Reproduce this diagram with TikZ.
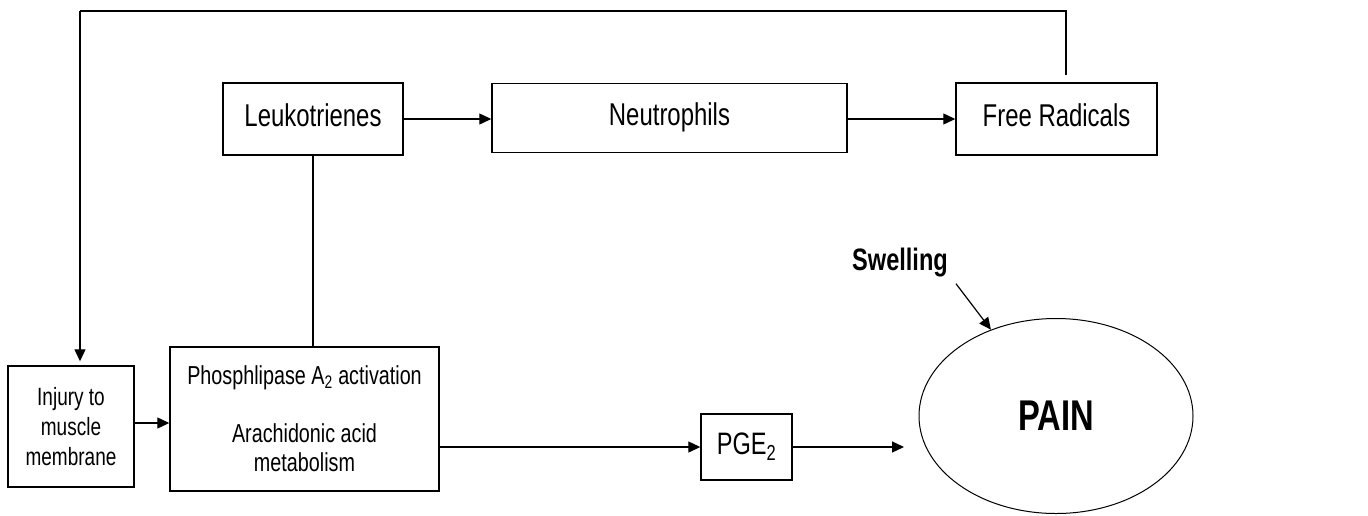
\documentclass[tikz,border=0pt]{standalone}
\usepackage{fontspec}
\setmainfont{Liberation Sans}[FakeStretch=0.76]
\usetikzlibrary{arrows.meta,shapes.geometric}

\tikzset{
  box/.style={draw,line width=1.4pt,inner sep=0pt,align=center},
  arr/.style={line width=1.2pt,-{Triangle[length=12pt,width=11pt]}},
  link/.style={line width=1.2pt}
}

\begin{document}
\begin{tikzpicture}[x=1pt,y=-1pt]
  \useasboundingbox (0,0) rectangle (1368,515);
  % top row
  \node[box,minimum width=180pt,minimum height=72pt,font=\fontsize{31.5}{35}\selectfont] (leuko) at (313,119) {\strut Leukotrienes};
  \node[box,minimum width=355pt,minimum height=69pt,font=\fontsize{31.5}{35}\selectfont] (neutro) at (669.5,118) {\strut Neutrophils};
  \node[box,minimum width=201pt,minimum height=72pt,font=\fontsize{31.5}{35}\selectfont] (free) at (1056.5,119) {\strut Free Radicals};
  % bottom row
  \node[box,minimum width=126pt,minimum height=121pt,font=\fontsize{25}{30}\selectfont] (injury) at (71,426.5) {Injury to\\muscle\\membrane};
  \node[box,minimum width=269pt,minimum height=144pt,font=\fontsize{26}{29}\selectfont] (phos) at (304.5,419) {Phosphlipase A\textsubscript{2} activation\\[29pt]Arachidonic acid\\metabolism};
  \node[box,minimum width=91pt,minimum height=66pt,font=\fontsize{31}{35}\selectfont] (pge) at (746.5,447) {\strut PGE\textsubscript{2}};
  \node[draw,ellipse,line width=1pt,minimum width=274pt,minimum height=195pt,font=\bfseries\fontsize{43}{48}\selectfont] (pain) at (1056,416) {PAIN};
  \node[inner sep=2pt,font=\bfseries\fontsize{31}{35}\selectfont] (swell) at (900,263) {Swelling};
  \coordinate (top) at (80,11);
  \coordinate (painin) at (904,447);
  % connectors
  \draw[arr] (leuko.east) -- (leuko.east -| neutro.west);
  \draw[arr] ([yshift=-1pt]neutro.east) -- ([yshift=-1pt]neutro.east -| free.west);
  \draw[link] ([xshift=9.5pt,yshift=7pt]free.north) |- (top);
  \draw[arr] (top) -- ([xshift=9pt,yshift=4pt]injury.north);
  \draw[link] (leuko.south) -- (leuko.south |- phos.north);
  \draw[arr] ([yshift=3.5pt]injury.east) -- ([yshift=3.5pt]injury.east -| phos.west);
  \draw[arr] (phos.east |- pge.west) -- (pge.west);
  \draw[arr] (pge.east) -- (painin);
  \draw[arr] ([xshift=6pt,yshift=-4pt]swell.south east) -- (pain.127);
\end{tikzpicture}
\end{document}
